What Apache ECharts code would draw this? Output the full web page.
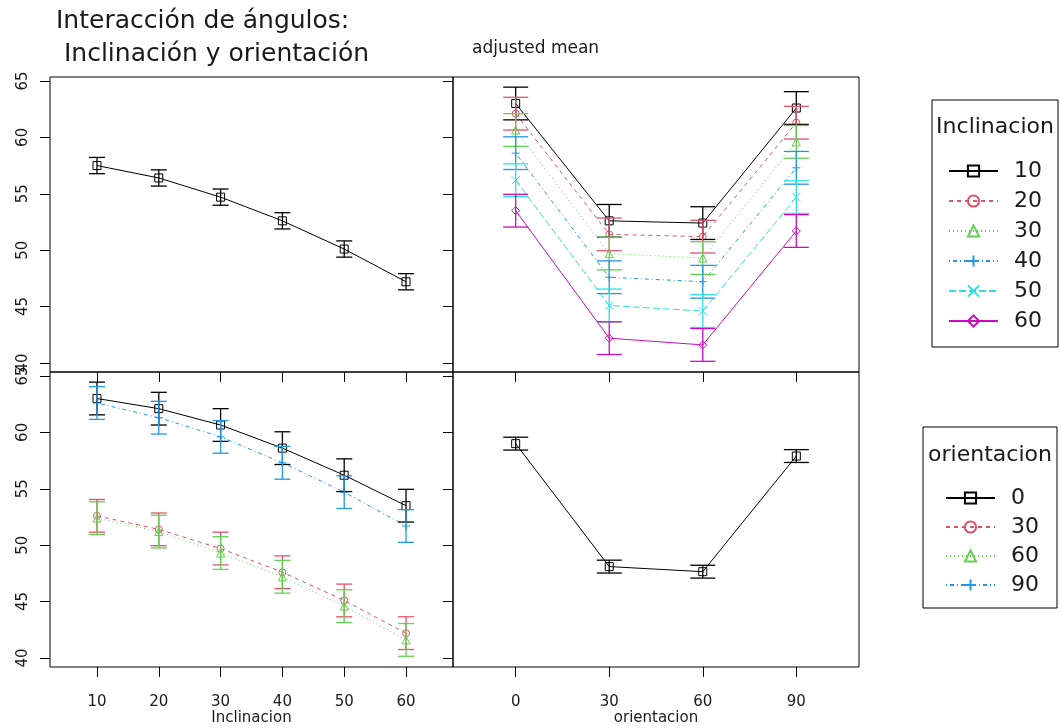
<!DOCTYPE html>
<html>
<head>
<meta charset="utf-8">
<title>Interacción de ángulos</title>
<script src="https://cdn.jsdelivr.net/npm/echarts@6/dist/echarts.min.js"></script>
<style>
html, body { margin: 0; padding: 0; background: #fff; }
#chart { width: 1061px; height: 728px; }
</style>
</head>
<body>
<div id="chart"></div>
<script>
// niveles de los factores
var inclinacion = ['10', '20', '30', '40', '50', '60'];
var orientacion = ['0', '30', '60', '90'];

// medias de celda (columnas = orientacion 0, 30, 60, 90)
var incl10 = [63.0, 52.6, 52.4, 62.6];
var incl20 = [62.1, 51.4, 51.2, 61.3];
var incl30 = [60.65, 49.7, 49.3, 59.6];
var incl40 = [58.6, 47.6, 47.2, 57.3];
var incl50 = [56.2, 45.1, 44.6, 54.7];
var incl60 = [53.5, 42.2, 41.6, 51.7];

// efectos principales
var mediaIncl = [57.5, 56.4, 54.7, 52.6, 50.1, 47.2];
var mediaOrient = [59.0, 48.1, 47.65, 57.9];

// semiancho de las barras de error
var errCelda = 1.45;
var errIncl = 0.72;
var errOrient = 0.57;

var yTicks = [40, 45, 50, 55, 60, 65];

var celdas = [incl10, incl20, incl30, incl40, incl50, incl60];

// estilos tipo lattice
var colores = ['#000000', '#DF536B', '#61D04F', '#2297E6', '#28E2E5', '#CD0BBC'];
var tiposLinea = ['solid', [4, 4], [1, 3], [1, 3, 4, 3], [7, 3], 'solid'];
var simbolos = ['rect', 'circle', 'triangle',
  'path://M0,5L10,5M5,0L5,10',
  'path://M0,0L10,10M10,0L0,10',
  'path://M0,5L5,0L10,5L5,10Z'];

var fuente = '"DejaVu Sans", "Liberation Sans", sans-serif';
var tinta = '#1a1a1a';

function errRender(capW) {
  return function (params, api) {
    var x = api.value(0), y = api.value(1), e = api.value(2);
    var a = api.coord([x, y + e]);
    var b = api.coord([x, y - e]);
    var st = { stroke: api.visual('color'), lineWidth: 1.3, fill: null };
    return {
      type: 'group',
      children: [
        { type: 'line', shape: { x1: a[0], y1: a[1], x2: b[0], y2: b[1] }, style: st },
        { type: 'line', shape: { x1: a[0] - capW / 2, y1: a[1], x2: a[0] + capW / 2, y2: a[1] }, style: st },
        { type: 'line', shape: { x1: b[0] - capW / 2, y1: b[1], x2: b[0] + capW / 2, y2: b[1] }, style: st }
      ]
    };
  };
}

function lineaSerie(name, grid, valores, k) {
  return {
    name: name,
    type: 'line',
    xAxisIndex: grid, yAxisIndex: grid,
    data: valores.map(function (v, i) { return [i + 1, v]; }),
    symbol: simbolos[k],
    symbolSize: k === 1 ? 7 : 8,
    lineStyle: { color: colores[k], width: 1, type: tiposLinea[k] },
    itemStyle: { color: 'rgba(0,0,0,0)', borderColor: colores[k], borderWidth: 1 },
    z: 2
  };
}

function errSerie(grid, valores, e, k, capW) {
  return {
    type: 'custom',
    xAxisIndex: grid, yAxisIndex: grid,
    renderItem: errRender(capW),
    itemStyle: { color: colores[k] },
    data: valores.map(function (v, i) { return [i + 1, v, e]; }),
    z: 3
  };
}

var series = [];
// arriba izquierda: efecto principal de Inclinacion
series.push(lineaSerie('main Inclinacion', 0, mediaIncl, 0));
series.push(errSerie(0, mediaIncl, errIncl, 0, 16));
// arriba derecha: x = orientacion, una linea por Inclinacion
celdas.forEach(function (fila, k) {
  series.push(lineaSerie('Inclinacion ' + inclinacion[k], 1, fila, k));
  series.push(errSerie(1, fila, errCelda, k, 25));
});
// abajo izquierda: x = Inclinacion, una linea por orientacion
orientacion.forEach(function (o, j) {
  var col = celdas.map(function (fila) { return fila[j]; });
  series.push(lineaSerie('orientacion ' + o, 2, col, j));
  series.push(errSerie(2, col, errCelda, j, 16));
});
// abajo derecha: efecto principal de orientacion
series.push(lineaSerie('main orientacion', 3, mediaOrient, 0));
series.push(errSerie(3, mediaOrient, errOrient, 0, 25));

function ejeX(grid, niveles, min, max, etiquetas, nombre) {
  var pos = niveles.map(function (v, i) { return i + 1; });
  return {
    type: 'value', gridIndex: grid, min: min, max: max,
    splitLine: { show: false },
    axisLine: { show: false },
    axisTick: { show: true, length: 10, customValues: pos, lineStyle: { color: '#000' } },
    axisLabel: {
      show: etiquetas, customValues: pos, margin: 28,
      fontFamily: fuente, fontSize: 15, color: tinta,
      formatter: function (v) { return niveles[Math.round(v) - 1]; }
    },
    name: nombre, nameLocation: 'middle', nameGap: 44,
    nameTextStyle: { fontFamily: fuente, fontSize: 15, color: tinta }
  };
}

function ejeY(grid, etiquetas) {
  return {
    type: 'value', gridIndex: grid, min: 39.2, max: 65.35,
    splitLine: { show: false },
    axisLine: { show: false },
    axisTick: { show: true, length: 10, customValues: yTicks, lineStyle: { color: '#000' } },
    axisLabel: {
      show: etiquetas, customValues: yTicks, rotate: 90, margin: 19,
      fontFamily: fuente, fontSize: 15, color: tinta
    }
  };
}

var marco = { show: true, borderColor: '#000', borderWidth: 1, backgroundColor: 'transparent' };

var option = {
  animation: false,
  backgroundColor: '#fff',
  title: [
    {
      text: 'Interacción de ángulos:\n Inclinación y orientación',
      left: 56, top: 5, padding: 0,
      textStyle: { fontFamily: fuente, fontSize: 25, fontWeight: 'normal', color: tinta, lineHeight: 33 }
    },
    {
      text: 'adjusted mean',
      left: 472, top: 39, padding: 0,
      textStyle: { fontFamily: fuente, fontSize: 17, fontWeight: 'normal', color: tinta, lineHeight: 20 }
    }
  ],
  grid: [
    Object.assign({ left: 50, top: 77, width: 403, height: 295 }, marco),
    Object.assign({ left: 453, top: 77, width: 406, height: 295 }, marco),
    Object.assign({ left: 50, top: 372, width: 403, height: 295 }, marco),
    Object.assign({ left: 453, top: 372, width: 406, height: 295 }, marco)
  ],
  xAxis: [
    ejeX(0, inclinacion, 0.24, 6.76, false, ''),
    ejeX(1, orientacion, 0.33, 4.67, false, ''),
    ejeX(2, inclinacion, 0.24, 6.76, true, 'Inclinacion'),
    ejeX(3, orientacion, 0.33, 4.67, true, 'orientacion')
  ],
  yAxis: [ejeY(0, true), ejeY(1, false), ejeY(2, true), ejeY(3, false)],
  legend: [
    {
      orient: 'vertical', left: 943, top: 155,
      itemWidth: 49, itemHeight: 14, itemGap: 8,
      selectedMode: false,
      data: inclinacion.map(function (v) { return 'Inclinacion ' + v; }),
      formatter: function (n) { return n.split(' ')[1]; },
      textStyle: { fontFamily: fuente, fontSize: 22, color: tinta, padding: [0, 0, 0, 11] }
    },
    {
      orient: 'vertical', left: 940, top: 482,
      itemWidth: 49, itemHeight: 14, itemGap: 7,
      selectedMode: false,
      data: orientacion.map(function (v) { return 'orientacion ' + v; }),
      formatter: function (n) { return n.split(' ')[1]; },
      textStyle: { fontFamily: fuente, fontSize: 22, color: tinta, padding: [0, 0, 0, 11] }
    }
  ],
  graphic: [
    { type: 'rect', shape: { x: 932, y: 100, width: 126, height: 247 }, style: { fill: 'none', stroke: '#000', lineWidth: 1 } },
    { type: 'text', x: 995, y: 127, style: { text: 'Inclinacion', font: '22px "DejaVu Sans"', fill: tinta, textAlign: 'center', textVerticalAlign: 'middle' } },
    { type: 'rect', shape: { x: 923, y: 427, width: 134, height: 181 }, style: { fill: 'none', stroke: '#000', lineWidth: 1 } },
    { type: 'text', x: 990, y: 455, style: { text: 'orientacion', font: '22px "DejaVu Sans"', fill: tinta, textAlign: 'center', textVerticalAlign: 'middle' } }
  ],
  series: series
};

var chart = echarts.init(document.getElementById('chart'));
chart.setOption(option);
</script>
</body>
</html>
